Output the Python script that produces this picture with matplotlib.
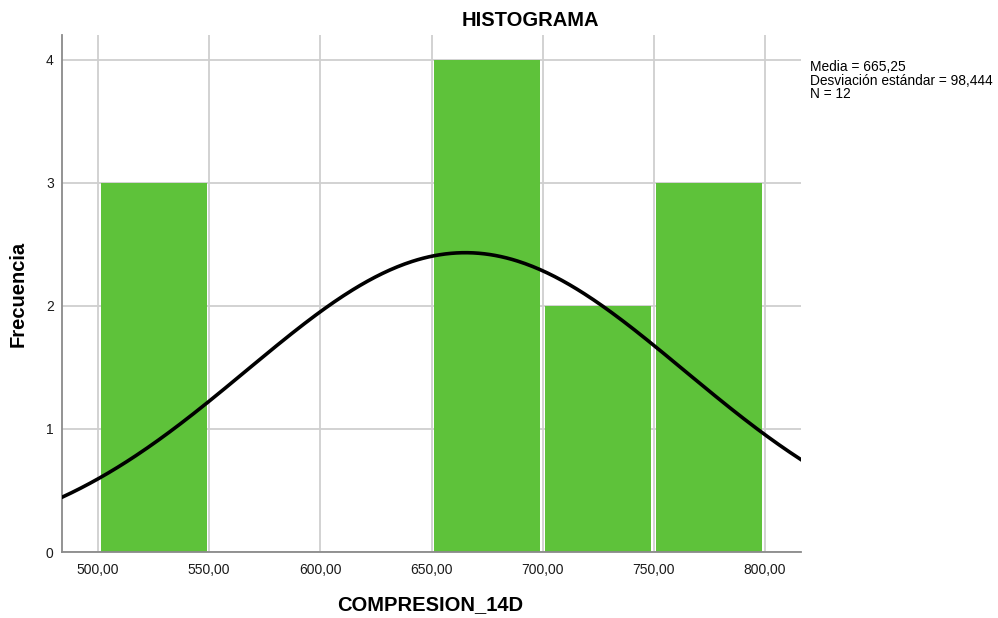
import numpy as np
import matplotlib
matplotlib.use("Agg")
import matplotlib.pyplot as plt

plt.rcParams['font.family'] = ['Liberation Sans', 'DejaVu Sans']

# Histogram of 14-day compression strength
bin_edges = [500, 550, 600, 650, 700, 750, 800]
counts = [3, 0, 0, 4, 2, 3]
mean = 665.25
std_dev = 98.444
n_obs = 12
x_ticks = [500, 550, 600, 650, 700, 750, 800]
y_ticks = [0, 1, 2, 3, 4]

fig = plt.figure(figsize=(9.98, 6.18), dpi=100)
W, H = 998, 618
ax = fig.add_axes([62 / W, 1 - 552 / H, (801 - 62) / W, (552 - 35) / H])

ax.set_xlim(483.8, 816.2)
ax.set_ylim(0, 4.2)

ax.set_axisbelow(True)
ax.grid(True, color='#cfcfcf', linewidth=1.3)

# bars sit slightly inside their bins so the grid line shows in the gaps
edges = np.asarray(bin_edges, dtype=float)
inset = 1.2
lefts = edges[:-1] + inset
widths = np.diff(edges) - 2 * inset
ax.bar(lefts, counts, width=widths, align='edge', color='#5ec23a',
       linewidth=0, zorder=2)

# Normal curve scaled to counts per bin
bw = edges[1] - edges[0]
xs = np.linspace(483.8, 816.2, 400)
ys = n_obs * bw * np.exp(-0.5 * ((xs - mean) / std_dev) ** 2) / (std_dev * np.sqrt(2 * np.pi))
ax.plot(xs, ys, color='black', linewidth=2.6, zorder=3, clip_on=True)

ax.set_xticks(x_ticks)
ax.set_xticklabels([f"{v:.2f}".replace('.', ',') for v in x_ticks])
ax.set_yticks(y_ticks)
ax.tick_params(axis='both', length=0, labelsize=10, colors='#1a1a1a')
ax.tick_params(axis='x', pad=8)
ax.tick_params(axis='y', pad=6)

for s in ['top', 'right']:
    ax.spines[s].set_visible(False)
for s in ['left', 'bottom']:
    ax.spines[s].set_color('#8a8a8a')
    ax.spines[s].set_linewidth(1.3)

fig.text(430 / W, 1 - 605 / H, 'COMPRESION_14D', ha='center', va='center',
         fontsize=14.5, fontweight='bold')
fig.text(18.5 / W, 1 - 294 / H, 'Frecuencia', ha='center', va='center',
         rotation=90, fontsize=14.5, fontweight='bold')
fig.text(530 / W, 1 - 20 / H, 'HISTOGRAMA', ha='center', va='center',
         fontsize=14.5, fontweight='bold')

stats = (f"Media = {mean:.2f}".replace('.', ',') + "\n"
         + f"Desviación estándar = {std_dev:.3f}".replace('.', ',') + "\n"
         + f"N = {n_obs}")
fig.text(810 / W, 1 - 60 / H, stats, ha='left', va='top', fontsize=9.9,
         linespacing=0.97)

fig.savefig('out.png', dpi=100, facecolor='white')
